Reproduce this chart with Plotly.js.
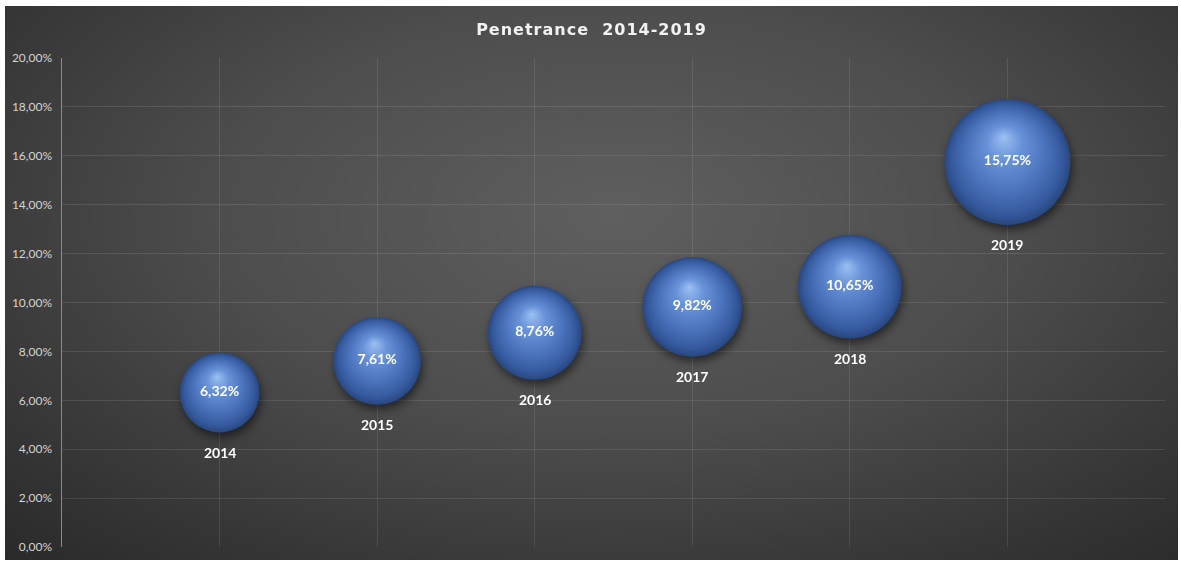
<!DOCTYPE html>
<html>
<head>
<meta charset="utf-8">
<script src="https://cdn.plot.ly/plotly-3.0.1.min.js"></script>
<style>
  html, body { margin: 0; padding: 0; background: #ffffff; width: 1181px; height: 562px; overflow: hidden; }
  #bg { position: absolute; left: 5px; top: 6px; width: 1173px; height: 554px;
        background: radial-gradient(ellipse 75% 85% at 52% 38%, #5f5f5f 0%, #4d4d4d 45%, #363636 80%, #2a2a2a 100%); }
  #chart { position: absolute; left: 5px; top: 6px; width: 1173px; height: 554px; }
  #chart .scatterlayer .trace:first-child .points { filter: drop-shadow(2px 5px 4px rgba(0,0,0,0.5)); }
  #chart .gtitle { letter-spacing: 1px; }
</style>
</head>
<body>
<div id="bg"></div>
<div id="chart"></div>
<script>
const years = [2014, 2015, 2016, 2017, 2018, 2019];
const penetration = [6.32, 7.61, 8.76, 9.82, 10.65, 15.75];
const bubbleSize = [6.32, 7.61, 8.76, 9.82, 10.65, 15.75];
const yTicks = [0, 2, 4, 6, 8, 10, 12, 14, 16, 18, 20];
const yTickLabels = yTicks.map(function (v) { return v.toFixed(2).replace('.', ',') + '%'; });
const chartTitle = 'Penetrance  2014-2019';

const maxBubblePx = 126;

const trace = {
  type: 'scatter',
  mode: 'markers+text',
  x: years,
  y: penetration,
  texttemplate: '%{y:.2f}%',
  textposition: 'middle center',
  textfont: { family: 'Lato, "Open Sans", sans-serif', size: 14, color: '#ffffff', weight: 'bold' },
  marker: {
    size: bubbleSize,
    sizemode: 'area',
    sizeref: 2 * Math.max(...bubbleSize) / (maxBubblePx * maxBubblePx),
    color: '#284780',
    gradient: { type: 'radial', color: '#96bcf0' },
    line: { width: 0 },
    opacity: 1
  },
  hoverinfo: 'skip',
  cliponaxis: false,
  showlegend: false
};

const layout = {
  width: 1173,
  height: 554,
  margin: { l: 57, r: 13, t: 52, b: 13 },
  paper_bgcolor: 'rgba(0,0,0,0)',
  plot_bgcolor: 'rgba(0,0,0,0)',
  separators: ',.',
  title: {
    text: chartTitle,
    x: 0.5, xanchor: 'center',
    y: 1 - 23 / 554, yanchor: 'middle',
    font: { family: '"DejaVu Sans", Verdana, sans-serif', size: 16, color: '#f2f2f2', weight: 'bold' }
  },
  xaxis: {
    range: [2013, 2020],
    dtick: 1,
    tick0: 2013,
    showticklabels: false,
    ticks: '',
    showgrid: true,
    gridcolor: 'rgba(255,255,255,0.10)',
    gridwidth: 1,
    zeroline: false,
    showline: false,
    fixedrange: true
  },
  yaxis: {
    range: [0, 20],
    tickmode: 'array',
    tickvals: yTicks,
    ticktext: yTickLabels,
    tickfont: { family: 'Lato, "Open Sans", sans-serif', size: 12, color: '#d4d4d4' },
    ticks: '',
    ticklen: 0,
    ticklabelstandoff: 6,
    showgrid: true,
    gridcolor: 'rgba(255,255,255,0.10)',
    gridwidth: 1,
    zeroline: false,
    showline: true,
    linecolor: '#8a8a8a',
    linewidth: 1.5,
    fixedrange: true
  },
  annotations: []
};

const gd = document.getElementById('chart');
Plotly.newPlot(gd, [trace], layout, { staticPlot: true, displayModeBar: false }).then(function () {
  // year labels under each bubble, offset by the rendered bubble radius
  const pts = gd.querySelectorAll('.scatterlayer .trace .points path.point');
  const anns = years.map(function (yr, i) {
    let r = 40;
    if (pts[i]) { r = pts[i].getBBox().height / 2; }
    return {
      x: yr, y: penetration[i], xref: 'x', yref: 'y',
      text: String(yr), showarrow: false,
      yshift: -(r + 20),
      font: { family: 'Lato, "Open Sans", sans-serif', size: 14, color: '#ffffff', weight: 'bold' }
    };
  });
  return Plotly.relayout(gd, { annotations: anns });
}).then(function () {
  // sphere shading: move focal point up and add stops
  gd.querySelectorAll('radialGradient').forEach(function (g) {
    g.setAttribute('cx', '0.5');
    g.setAttribute('cy', '0.5');
    g.setAttribute('r', '0.5');
    g.setAttribute('fx', '0.47');
    g.setAttribute('fy', '0.3');
    while (g.firstChild) g.removeChild(g.firstChild);
    const stops = [
      ['0%', '#9cc0f2'],
      ['28%', '#6892d8'],
      ['62%', '#4b73bc'],
      ['88%', '#35599d'],
      ['100%', '#284780']
    ];
    stops.forEach(function (s) {
      const st = document.createElementNS('http://www.w3.org/2000/svg', 'stop');
      st.setAttribute('offset', s[0]);
      st.setAttribute('stop-color', s[1]);
      g.appendChild(st);
    });
  });
});
</script>
</body>
</html>
